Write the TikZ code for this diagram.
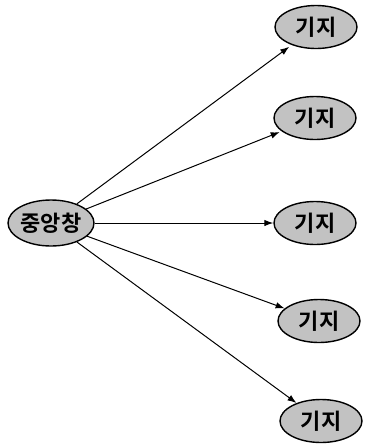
\documentclass[tikz,border=0pt]{standalone}
\usepackage{fontspec}
\newfontfamily\kr{Noto Sans CJK KR}[BoldFont={* Bold}]
\usetikzlibrary{shapes.geometric,arrows.meta}
\begin{document}
\begin{tikzpicture}[x=1pt,y=-1pt,
  nodebox/.style={ellipse,draw=black,line width=1.4pt,fill=black!24,inner sep=0pt,
    minimum width=82pt,minimum height=43pt,font=\kr\bfseries\fontsize{22}{22}\selectfont},
  conn/.style={line width=1pt,-{Latex[length=9pt,width=6.5pt]}}]
\useasboundingbox (0,0) rectangle (366,445);
\node[nodebox,minimum width=86pt,minimum height=46pt] (c) at (51,223) {중앙창};
\node[nodebox] (n1) at (316,27) {기지};
\node[nodebox] (n2) at (315,118) {기지};
\node[nodebox] (n3) at (315,223) {기지};
\node[nodebox] (n4) at (319,321) {기지};
\node[nodebox] (n5) at (321,421) {기지};
\draw[conn,shorten >=3pt] (c) -- (n1);
\draw[conn,shorten >=2pt] (c) -- (n2);
\draw[conn] (c) -- (n3);
\draw[conn] (c) -- (n4);
\draw[conn] (c) -- (n5);
\end{tikzpicture}
\end{document}
